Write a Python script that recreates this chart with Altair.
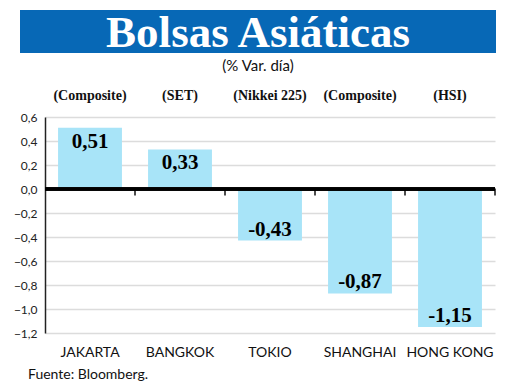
import altair as alt
import pandas as pd

cities = ["JAKARTA", "BANGKOK", "TOKIO", "SHANGHAI", "HONG KONG"]
indices = ["(Composite)", "(SET)", "(Nikkei 225)", "(Composite)", "(HSI)"]
values = [0.51, 0.33, -0.43, -0.87, -1.15]
labels = ["0,51", "0,33", "-0,43", "-0,87", "-1,15"]
y_ticks = [0.6, 0.4, 0.2, 0.0, -0.2, -0.4, -0.6, -0.8, -1.0, -1.2]

title_text = "Bolsas Asiáticas"
subtitle_text = "(% Var. día)"
source_text = "Fuente: Bloomberg."

df = pd.DataFrame({"city": cities, "index": indices, "value": values, "label": labels})

W, H = 450, 216
BAR = "#a8e4f8"
BLUE = "#0768b6"

x_axis = alt.Axis(title=None, domain=False, ticks=False, labelAngle=0,
                  labelFont="Lato", labelFontSize=14, labelColor="#111", labelPadding=12)
x_scale = alt.Scale(paddingInner=0.29, paddingOuter=0.145)
x_enc = alt.X("city:N", sort=cities, scale=x_scale, axis=x_axis)

y_scale = alt.Scale(domain=[-1.2, 0.6], nice=False)
y_axis = alt.Axis(title=None, values=y_ticks, format=".1f",
                  labelExpr="replace(datum.label, '.', ',')",
                  labelOverlap=False, labelFlush=False,
                  labelFont="Lato", labelFontSize=12, labelColor="#222",
                  domainColor="#222", domainWidth=1.5, ticks=False, labelPadding=8,
                  grid=True, gridColor="#dcdcdc", gridWidth=1.5)

base = alt.Chart(df)

bars = base.mark_bar(color=BAR).encode(
    x=x_enc,
    y=alt.Y("value:Q", scale=y_scale, axis=y_axis),
)

zero = base.mark_rule(color="black", strokeWidth=3).encode(
    y=alt.Y(datum=0, scale=y_scale, axis=y_axis))

ticks = base.mark_tick(color="black", orient="vertical", size=7, thickness=2,
                       xOffset=45, yOffset=3).encode(
    x=x_enc, y=alt.Y(datum=0, scale=y_scale, axis=y_axis))

pos_txt = base.transform_filter("datum.value >= 0").mark_text(
    font="Liberation Serif", fontWeight="bold", fontSize=21, dy=14, baseline="middle", color="black"
).encode(x=x_enc, y=alt.Y("value:Q", scale=y_scale, axis=y_axis), text="label:N")

neg_txt = base.transform_filter("datum.value < 0").mark_text(
    font="Liberation Serif", fontWeight="bold", fontSize=21, dy=-11, baseline="middle", color="black"
).encode(x=x_enc, y=alt.Y("value:Q", scale=y_scale, axis=y_axis), text="label:N")

idx_txt = base.mark_text(font="Liberation Serif", fontWeight="bold", fontSize=14, color="#111",
                         baseline="middle").encode(
    x=x_enc, y=alt.value(-21), text="index:N")

banner = alt.Chart(pd.DataFrame({"t": [title_text]})).mark_rect(color=BLUE).encode(
    x=alt.value(-25), x2=alt.value(451), y=alt.value(-107), y2=alt.value(-64))

title = alt.Chart(pd.DataFrame({"t": [title_text]})).mark_text(
    font="Liberation Serif", fontWeight="bold", fontSize=45, color="white", baseline="middle"
).encode(x=alt.value(213), y=alt.value(-84), text="t:N")

subtitle = alt.Chart(pd.DataFrame({"t": [subtitle_text]})).mark_text(
    font="Lato", fontSize=15, color="#111", baseline="middle"
).encode(x=alt.value(213), y=alt.value(-51), text="t:N")

source = alt.Chart(pd.DataFrame({"t": [source_text]})).mark_text(
    font="Lato", fontSize=14, color="#111", baseline="middle", align="left"
).encode(x=alt.value(-17), y=alt.value(258), text="t:N")

chart = alt.layer(bars, zero, ticks, pos_txt, neg_txt, idx_txt, banner, title, subtitle, source).properties(
    width=W, height=H, padding={"left": 37, "top": 109, "right": 17, "bottom": 48},
    autosize=alt.AutoSizeParams(type="none"), background="white"
).configure_view(stroke=None)

chart.save("out.html", embed_options={"renderer": "svg", "actions": False})
